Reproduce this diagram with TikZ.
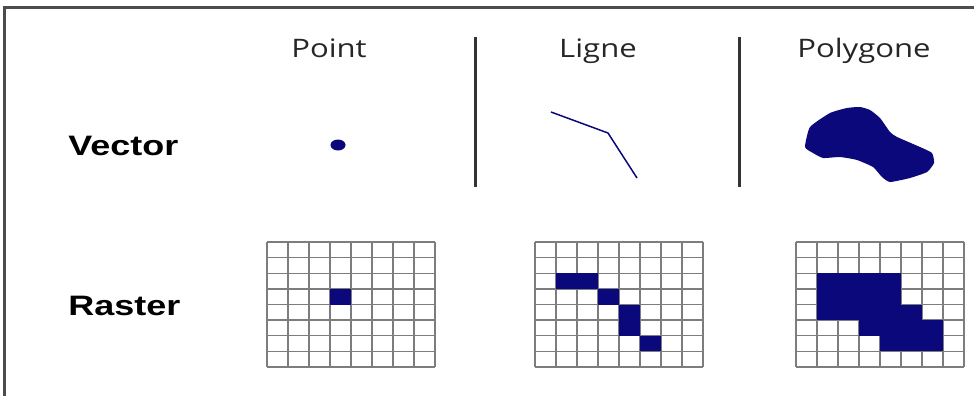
\documentclass[tikz,border=0pt]{standalone}
\usepackage{fontspec}
\setmainfont{Liberation Sans}
\newfontfamily\headfont{Open Sans}
\usepackage{xcolor}
\usepackage{tikz}
\usetikzlibrary{positioning}
\definecolor{navyfill}{RGB}{10,8,122}
\definecolor{gridgray}{RGB}{125,125,125}
\newcommand{\wide}[2]{\scalebox{#1}[1]{#2}}

\begin{document}
\begin{tikzpicture}[x=0.02cm, y=-0.02cm,
    header/.style={font=\headfont\fontsize{14.5}{16}\selectfont, text=black!85, anchor=base, inner sep=0pt},
    rowlabel/.style={font=\bfseries\fontsize{16}{18}\selectfont, anchor=base west, inner sep=0pt},
    sepline/.style={draw=black!80, line width=0.06cm},
    gridline/.style={draw=gridgray, line width=0.028cm},
    cell/.style={fill=navyfill}
]
    \useasboundingbox (0,0) rectangle (974,396);
    \draw[black!70, line width=0.05cm] (4.5,396) -- (4.5,7.5) -- (974,7.5);

    \node[header] (point) at (329,57) {\wide{1.22}{Point}};
    \node[header] (ligne) at (598,57) {\wide{1.22}{Ligne}};
    \node[header] (polygone) at (864,57) {\wide{1.22}{Polygone}};

    \node[rowlabel] (vector) at (68,155) {\wide{1.28}{Vector}};
    \node[rowlabel] (raster) at (68,315) {\wide{1.28}{Raster}};

    \draw[sepline] (475,37) -- (475,187);
    \draw[sepline] (739,37) -- (739,187);

    % vector row
    \fill[navyfill] (338,145) ellipse [x radius=0.15cm, y radius=0.11cm];
    \draw[navyfill, line width=0.03cm] (551,112) -- (608,133) -- (637,178);
    \fill[navyfill] plot[smooth cycle, tension=0.3] coordinates {
        (805,147) (810,127) (830,113) (847,108) (860,107) (870,110)
        (880,118) (890,132) (897,137) (920,147) (932,153) (934,163)
        (927,172) (910,178) (890,182) (882,177) (873,167) (857,160)
        (840,157) (823,158) (813,153)};

    % raster row
    \foreach \gx in {267,535,796} {
        \foreach \i in {0,...,8} {
            \draw[gridline] (\gx+\i*21,242) -- (\gx+\i*21,367);
            \draw[gridline] (\gx,242+\i*15.625) -- (\gx+168,242+\i*15.625);
        }
    }
    \foreach \gx/\c/\r in {267/3/3,
        535/1/2, 535/2/2, 535/3/3, 535/4/4, 535/4/5, 535/5/6,
        796/1/2, 796/2/2, 796/3/2, 796/4/2,
        796/1/3, 796/2/3, 796/3/3, 796/4/3,
        796/1/4, 796/2/4, 796/3/4, 796/4/4, 796/5/4,
        796/3/5, 796/4/5, 796/5/5, 796/6/5,
        796/4/6, 796/5/6, 796/6/6}
        \fill[cell] (\gx+\c*21,242+\r*15.625) rectangle ++(21,15.625);
\end{tikzpicture}
\end{document}
